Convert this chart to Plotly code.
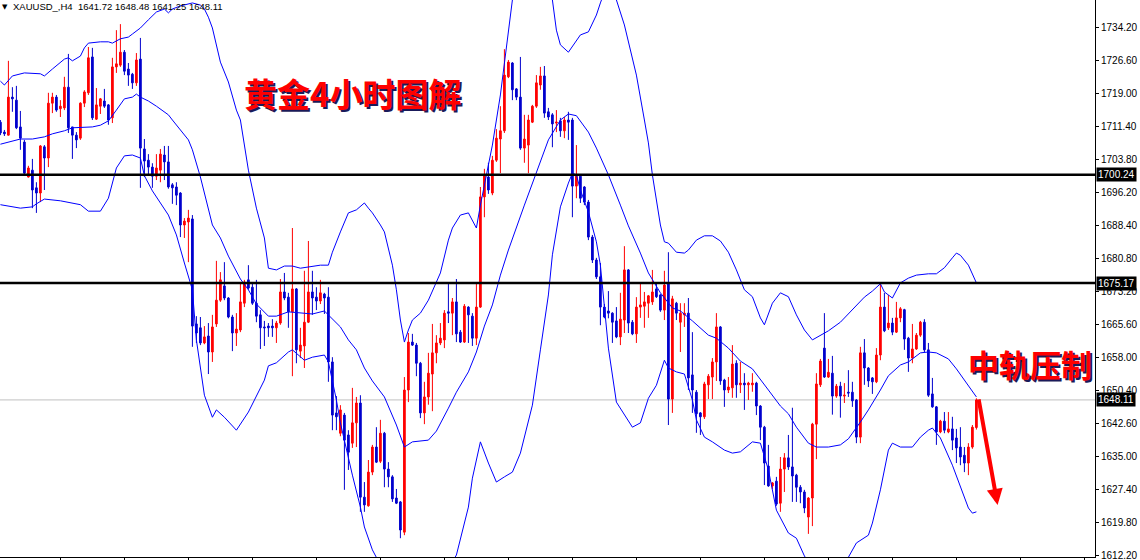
import plotly.graph_objects as go

# H4 candles, oldest first (last one is the live bar)
opens = [
    1712.4, 1710.1, 1709.4, 1718.2, 1717.5, 1711.3, 1707.8, 1699.7, 1701.3, 1697.2,
    1696.0, 1706.7, 1704.1, 1716.8, 1718.2, 1715.5, 1715.7, 1720.5, 1711.3, 1709.4,
    1708.7, 1716.8, 1719.2, 1727.5, 1713.1, 1716.1, 1717.3, 1716.4, 1713.4, 1725.2,
    1725.6, 1728.6, 1724.7, 1723.5, 1721.5, 1727.0, 1706.2, 1703.6, 1702.0, 1699.9,
    1701.3, 1704.8, 1703.2, 1697.9, 1697.4, 1696.0, 1688.6, 1689.3, 1690.0, 1665.7,
    1664.8, 1661.3, 1662.9, 1659.2, 1665.7, 1671.2, 1674.5, 1671.7, 1667.3, 1663.6,
    1664.3, 1670.5, 1675.9, 1674.2, 1670.5, 1667.8, 1665.0, 1665.2, 1665.2, 1664.8,
    1665.9, 1673.1, 1671.9, 1668.5, 1673.8, 1659.4, 1660.6, 1666.1, 1673.1, 1671.9,
    1671.0, 1672.6, 1671.9, 1656.9, 1645.1, 1640.4, 1644.6, 1640.0, 1638.1, 1642.8,
    1647.4, 1625.6, 1623.6, 1631.4, 1637.2, 1633.9, 1640.4, 1632.1, 1630.3, 1625.4,
    1624.5, 1617.5, 1650.4, 1661.5, 1660.8, 1656.6, 1645.1, 1648.8, 1654.1, 1659.0,
    1661.3, 1662.0, 1668.5, 1668.2, 1670.8, 1663.8, 1661.5, 1669.6, 1667.5, 1662.4,
    1669.6, 1695.1, 1699.7, 1696.0, 1703.6, 1708.5, 1710.4, 1722.9, 1726.1, 1720.1,
    1718.2, 1706.4, 1707.1, 1712.4, 1716.1, 1721.0, 1723.1, 1714.8, 1714.1, 1712.2,
    1712.7, 1710.4, 1712.9, 1712.9, 1697.6, 1699.9, 1697.4, 1693.9, 1685.8, 1680.5,
    1676.6, 1669.6, 1668.7, 1668.2, 1666.4, 1662.7, 1666.6, 1678.2, 1666.1, 1663.4,
    1669.6, 1669.8, 1670.5, 1670.8, 1673.8, 1672.4, 1668.9, 1675.2, 1648.3, 1670.5,
    1666.1, 1667.8, 1668.2, 1653.9, 1649.9, 1645.1, 1644.2, 1651.6, 1653.4, 1656.9,
    1665.0, 1652.7, 1650.4, 1650.9, 1656.6, 1651.6, 1652.0, 1651.6, 1651.6, 1652.0,
    1646.7, 1641.8, 1632.8, 1628.2, 1629.3, 1624.2, 1632.1, 1634.7, 1632.6, 1630.7,
    1627.9, 1626.8, 1621.0, 1625.4, 1642.5, 1651.6, 1660.1, 1653.4, 1654.3, 1649.0,
    1651.3, 1649.0, 1649.9, 1649.9, 1648.1, 1639.5, 1659.0, 1655.5, 1653.2, 1652.3,
    1658.5, 1669.6, 1664.8, 1665.9, 1663.8, 1667.1, 1669.0, 1662.4, 1657.8, 1659.9,
    1663.1, 1666.1, 1659.7, 1649.5, 1646.5, 1640.7, 1643.2, 1640.7, 1641.4, 1639.3,
    1637.2, 1635.3, 1633.5, 1637.2, 1641.72,
]
highs = [
    1712.9, 1710.6, 1726.6, 1720.5, 1720.8, 1715.0, 1708.3, 1702.3, 1703.9, 1698.5,
    1707.1, 1707.1, 1719.2, 1719.2, 1718.7, 1717.5, 1722.9, 1728.2, 1711.3, 1710.1,
    1717.0, 1719.8, 1729.8, 1729.6, 1720.3, 1718.0, 1720.1, 1716.6, 1727.3, 1733.7,
    1735.1, 1729.1, 1726.1, 1723.8, 1728.4, 1731.9, 1708.5, 1705.0, 1702.9, 1705.0,
    1706.2, 1706.9, 1706.9, 1698.3, 1698.5, 1696.2, 1690.2, 1692.1, 1690.9, 1667.5,
    1667.3, 1665.2, 1665.9, 1667.8, 1680.3, 1677.7, 1680.0, 1671.9, 1667.8, 1668.2,
    1675.2, 1675.9, 1679.3, 1675.4, 1675.9, 1668.9, 1666.4, 1665.9, 1666.8, 1666.4,
    1676.1, 1677.5, 1672.9, 1687.9, 1674.0, 1664.8, 1678.0, 1684.9, 1678.0, 1674.2,
    1675.9, 1672.9, 1674.2, 1658.0, 1649.0, 1646.9, 1645.1, 1641.1, 1650.9, 1648.8,
    1649.2, 1629.1, 1634.2, 1637.7, 1641.8, 1643.5, 1640.7, 1633.7, 1630.7, 1627.5,
    1624.7, 1653.4, 1663.6, 1663.4, 1661.3, 1656.9, 1652.3, 1659.0, 1665.7, 1663.1,
    1665.9, 1668.9, 1675.2, 1671.7, 1676.1, 1664.3, 1670.3, 1669.8, 1668.2, 1675.2,
    1697.4, 1701.6, 1703.0, 1704.6, 1710.8, 1716.1, 1729.3, 1726.8, 1726.3, 1720.3,
    1727.5, 1714.1, 1714.1, 1716.4, 1723.3, 1725.2, 1725.4, 1715.7, 1714.5, 1715.2,
    1713.4, 1713.6, 1714.8, 1713.4, 1707.1, 1700.4, 1697.6, 1694.4, 1686.3, 1681.0,
    1679.8, 1670.3, 1673.3, 1668.4, 1669.6, 1672.9, 1683.7, 1678.4, 1666.6, 1671.9,
    1675.2, 1673.1, 1672.4, 1678.2, 1675.2, 1672.6, 1678.0, 1682.3, 1672.2, 1670.8,
    1670.5, 1670.5, 1671.7, 1663.8, 1650.4, 1645.3, 1652.3, 1654.1, 1657.8, 1668.2,
    1665.2, 1653.0, 1653.4, 1660.8, 1657.3, 1656.9, 1654.3, 1652.3, 1654.3, 1652.3,
    1646.9, 1642.1, 1637.7, 1629.1, 1630.3, 1634.9, 1635.8, 1640.0, 1646.3, 1631.0,
    1628.4, 1627.3, 1625.6, 1642.8, 1654.3, 1657.6, 1668.2, 1657.6, 1658.3, 1651.8,
    1652.3, 1652.0, 1655.0, 1652.3, 1648.3, 1660.4, 1662.2, 1655.7, 1653.4, 1660.1,
    1674.9, 1672.9, 1672.4, 1667.1, 1670.8, 1669.6, 1669.2, 1662.7, 1665.7, 1663.6,
    1666.4, 1666.8, 1661.3, 1653.2, 1646.7, 1643.5, 1645.3, 1645.3, 1644.2, 1641.4,
    1641.8, 1637.2, 1638.1, 1642.3, 1648.48,
]
lows = [
    1709.4, 1709.2, 1709.3, 1714.8, 1710.8, 1706.0, 1700.2, 1699.6, 1692.5, 1691.4,
    1693.9, 1696.7, 1702.0, 1714.5, 1714.8, 1713.6, 1715.2, 1709.9, 1703.9, 1706.4,
    1708.3, 1715.9, 1718.7, 1712.9, 1712.9, 1714.3, 1715.7, 1711.8, 1712.2, 1723.8,
    1725.2, 1723.3, 1720.8, 1720.1, 1720.8, 1697.2, 1699.7, 1700.2, 1697.2, 1699.0,
    1698.5, 1699.0, 1697.0, 1693.5, 1693.2, 1685.8, 1685.6, 1680.0, 1660.4, 1661.3,
    1660.8, 1661.0, 1654.1, 1656.9, 1665.0, 1670.8, 1671.2, 1667.0, 1659.4, 1660.6,
    1663.8, 1669.6, 1673.6, 1670.1, 1666.1, 1659.9, 1660.6, 1662.7, 1662.7, 1661.3,
    1665.5, 1671.2, 1664.8, 1653.6, 1656.6, 1657.8, 1655.5, 1665.9, 1667.8, 1668.9,
    1670.3, 1668.0, 1652.3, 1641.1, 1641.1, 1639.7, 1627.3, 1631.9, 1637.0, 1637.2,
    1622.2, 1622.2, 1623.4, 1630.7, 1633.5, 1633.5, 1627.9, 1627.9, 1624.5, 1624.0,
    1616.1, 1616.8, 1647.6, 1660.6, 1653.6, 1643.9, 1642.5, 1647.0, 1645.5, 1656.6,
    1660.8, 1660.1, 1665.9, 1663.1, 1661.5, 1661.3, 1661.3, 1661.3, 1660.6, 1660.8,
    1669.4, 1690.4, 1695.8, 1695.5, 1703.2, 1700.6, 1709.9, 1722.6, 1717.5, 1717.5,
    1706.0, 1703.0, 1700.6, 1712.2, 1715.7, 1719.9, 1713.4, 1712.9, 1706.6, 1710.1,
    1709.0, 1708.7, 1708.3, 1690.4, 1694.8, 1693.7, 1693.2, 1685.1, 1679.8, 1676.1,
    1665.4, 1667.0, 1667.0, 1661.3, 1662.4, 1660.8, 1663.6, 1663.6, 1663.1, 1661.3,
    1667.1, 1664.8, 1667.1, 1670.1, 1671.7, 1668.5, 1666.6, 1642.3, 1645.1, 1666.6,
    1659.2, 1665.0, 1650.4, 1645.1, 1640.5, 1640.0, 1643.7, 1648.3, 1648.3, 1652.5,
    1651.6, 1646.5, 1649.7, 1648.6, 1648.6, 1649.7, 1645.8, 1648.1, 1650.0, 1644.6,
    1638.8, 1628.4, 1628.0, 1627.5, 1623.6, 1622.2, 1626.8, 1631.9, 1624.5, 1624.5,
    1624.2, 1621.9, 1617.1, 1618.9, 1634.4, 1651.1, 1653.2, 1653.2, 1644.7, 1648.6,
    1644.0, 1647.4, 1648.8, 1646.5, 1638.1, 1638.1, 1651.6, 1651.1, 1649.5, 1652.0,
    1657.3, 1663.8, 1664.3, 1663.1, 1663.6, 1666.1, 1659.7, 1654.6, 1656.6, 1659.7,
    1662.7, 1659.2, 1648.8, 1646.3, 1637.7, 1640.4, 1640.4, 1640.4, 1636.5, 1633.5,
    1633.0, 1631.4, 1630.7, 1636.8, 1641.25,
]
closes = [
    1709.9, 1709.7, 1718.2, 1717.8, 1711.1, 1708.7, 1700.6, 1701.8, 1696.7, 1696.0,
    1706.9, 1704.1, 1716.8, 1718.2, 1715.2, 1716.1, 1720.5, 1711.1, 1709.4, 1708.3,
    1716.8, 1719.4, 1727.3, 1713.4, 1716.4, 1717.8, 1716.1, 1712.9, 1725.2, 1725.9,
    1728.6, 1724.2, 1723.3, 1721.5, 1726.8, 1706.4, 1703.4, 1702.0, 1699.9, 1701.8,
    1705.0, 1703.2, 1697.4, 1697.2, 1695.5, 1688.6, 1689.5, 1690.2, 1665.2, 1663.6,
    1661.3, 1662.7, 1659.2, 1665.0, 1671.2, 1675.9, 1671.7, 1667.3, 1663.6, 1664.5,
    1670.8, 1675.4, 1674.0, 1670.5, 1667.5, 1664.8, 1664.8, 1664.8, 1664.8, 1665.9,
    1673.1, 1671.7, 1668.5, 1673.8, 1659.7, 1660.8, 1666.1, 1673.1, 1671.7, 1671.0,
    1672.9, 1671.7, 1656.9, 1644.6, 1644.2, 1645.8, 1638.8, 1636.0, 1642.8, 1647.4,
    1625.6, 1623.8, 1631.4, 1637.2, 1633.7, 1640.4, 1632.1, 1630.3, 1625.2, 1624.2,
    1618.0, 1650.4, 1661.5, 1660.8, 1656.6, 1645.1, 1648.8, 1654.3, 1659.0, 1661.3,
    1662.4, 1668.2, 1668.2, 1670.8, 1663.4, 1661.5, 1669.8, 1667.8, 1662.4, 1669.6,
    1695.1, 1700.2, 1696.7, 1703.6, 1708.7, 1710.4, 1723.3, 1726.3, 1719.9, 1718.2,
    1706.4, 1708.5, 1712.9, 1716.1, 1721.5, 1723.1, 1714.5, 1713.6, 1712.0, 1712.4,
    1710.4, 1712.9, 1712.4, 1697.6, 1699.9, 1694.8, 1693.9, 1685.8, 1680.5, 1676.6,
    1669.6, 1667.3, 1668.2, 1666.1, 1662.7, 1666.8, 1678.2, 1665.9, 1663.4, 1669.6,
    1670.1, 1670.8, 1672.2, 1673.1, 1672.0, 1668.9, 1674.7, 1648.3, 1671.5, 1668.2,
    1668.2, 1668.2, 1653.2, 1650.4, 1644.9, 1644.2, 1651.8, 1653.6, 1656.9, 1665.0,
    1652.5, 1650.4, 1651.1, 1656.4, 1651.6, 1652.0, 1651.6, 1652.0, 1652.0, 1646.7,
    1641.8, 1633.5, 1628.2, 1628.9, 1624.0, 1632.1, 1634.7, 1632.6, 1630.5, 1627.9,
    1626.8, 1623.1, 1625.4, 1642.5, 1651.8, 1657.1, 1653.4, 1654.5, 1649.0, 1651.3,
    1649.0, 1649.2, 1649.7, 1647.9, 1639.5, 1659.0, 1655.5, 1652.5, 1652.3, 1658.5,
    1669.6, 1664.1, 1665.9, 1663.8, 1667.1, 1669.2, 1662.2, 1657.8, 1659.9, 1663.1,
    1666.1, 1659.7, 1649.2, 1646.5, 1640.7, 1643.2, 1641.1, 1641.4, 1638.8, 1637.0,
    1634.9, 1633.5, 1637.2, 1641.8, 1648.11,
]

# Bollinger bands (bar index, price)
upper_idx = [0, 1, 3, 6, 10, 11, 13, 16, 17, 18, 20, 21, 22, 25, 27, 28, 30, 32, 33, 35,
             37, 39, 41, 42, 43, 45, 48, 50, 51, 52, 53, 55, 57, 59, 60, 62, 64, 66, 67, 69,
             71, 73, 75, 77, 80, 82, 83, 85, 87, 89, 91, 92, 93, 95, 96, 98, 99, 100, 101, 102,
             103, 105, 107, 110, 112, 113, 115, 117, 119, 120, 121, 123, 125, 127, 128, 130, 134, 137, 138, 139,
             140, 142, 144, 145, 147, 149, 150, 151, 153, 154, 156, 158, 159, 161, 162, 163, 165, 166, 167, 169,
             171, 172, 174, 176, 178, 180, 182, 184, 186, 188, 190, 191, 193, 195, 197, 199, 201, 203, 205, 207,
             210, 212, 214, 216, 218, 220, 221, 223, 225, 227, 229, 232, 234, 236, 238, 239, 240, 242, 244]
upper_band = [1721.9, 1721.0, 1723.1, 1723.8, 1723.6, 1723.1, 1724.7, 1727.0, 1727.3, 1726.6,
              1727.7, 1729.6, 1730.7, 1731.0, 1731.0, 1730.7, 1731.7, 1732.1, 1732.8, 1734.2,
              1736.1, 1737.9, 1738.6, 1737.7, 1738.6, 1739.3, 1740.0, 1739.5, 1738.6, 1736.7,
              1734.2, 1726.3, 1721.7, 1715.2, 1712.9, 1701.3, 1692.5, 1685.6, 1678.6, 1678.2,
              1679.1, 1679.1, 1678.6, 1678.9, 1679.3, 1679.3, 1682.3, 1687.0, 1691.4, 1692.1,
              1693.7, 1692.5, 1691.4, 1688.6, 1687.0, 1679.3, 1673.6, 1666.6, 1661.5, 1664.3,
              1666.6, 1668.2, 1671.2, 1677.5, 1685.1, 1687.9, 1690.9, 1691.4, 1687.9, 1693.2,
              1697.9, 1707.1, 1718.7, 1733.7, 1740.7, 1747.6, 1752.3, 1744.2, 1740.7, 1733.7,
              1730.3, 1728.6, 1731.4, 1732.6, 1733.3, 1737.2, 1740.0, 1742.5, 1742.5, 1740.7,
              1734.9, 1727.5, 1723.3, 1712.9, 1707.6, 1700.2, 1688.6, 1684.7, 1684.4, 1682.3,
              1682.1, 1682.8, 1685.1, 1686.1, 1686.1, 1684.9, 1682.3, 1678.2, 1673.6, 1672.0,
              1667.1, 1665.5, 1670.5, 1672.9, 1672.0, 1667.8, 1664.3, 1662.0, 1663.1, 1664.1,
              1666.1, 1668.0, 1669.8, 1671.9, 1673.3, 1675.0, 1673.1, 1671.7, 1675.2, 1676.3,
              1677.0, 1677.3, 1677.3, 1678.7, 1681.0, 1682.1, 1681.6, 1679.3, 1675.2]

mid_idx = [0, 5, 8, 11, 13, 16, 18, 21, 23, 25, 27, 29, 31, 33, 34, 35, 37, 39, 42, 43,
           45, 47, 48, 50, 53, 55, 57, 60, 62, 64, 67, 69, 72, 75, 78, 81, 83, 85, 87, 89,
           91, 93, 96, 99, 101, 103, 107, 109, 112, 114, 117, 119, 121, 123, 125, 127, 131, 134, 137, 140,
           142, 144, 147, 149, 152, 155, 157, 160, 162, 165, 168, 170, 173, 177, 179, 182, 185, 188, 190, 192,
           195, 197, 199, 202, 204, 207, 210, 212, 215, 217, 220, 222, 225, 227, 230, 232, 234, 237, 239, 242,
           244]
mid_band = [1707.3, 1708.5, 1708.5, 1709.0, 1709.7, 1710.4, 1711.1, 1711.3, 1711.3, 1711.7,
            1712.7, 1715.2, 1717.8, 1718.2, 1718.9, 1718.2, 1717.3, 1716.1, 1714.1, 1712.9,
            1710.6, 1708.3, 1706.0, 1699.7, 1688.6, 1685.6, 1681.4, 1676.1, 1673.6, 1670.3,
            1667.5, 1667.5, 1668.5, 1668.2, 1668.0, 1668.7, 1666.8, 1665.0, 1662.0, 1659.7,
            1655.5, 1652.5, 1648.8, 1642.3, 1637.2, 1638.4, 1638.8, 1640.9, 1646.2, 1649.9,
            1654.6, 1659.2, 1665.2, 1670.1, 1677.0, 1682.8, 1693.2, 1700.9, 1708.3, 1712.9,
            1714.3, 1713.9, 1710.1, 1706.4, 1700.2, 1693.2, 1688.4, 1682.1, 1677.5, 1672.9,
            1669.4, 1668.7, 1666.4, 1663.1, 1662.4, 1660.1, 1657.1, 1655.3, 1652.7, 1650.4,
            1646.7, 1644.9, 1641.8, 1638.1, 1637.2, 1637.2, 1637.7, 1639.1, 1643.0, 1645.8,
            1650.4, 1653.7, 1656.2, 1656.9, 1659.0, 1659.2, 1659.0, 1657.6, 1655.3, 1651.3,
            1648.8]

lower_idx = [0, 3, 5, 8, 9, 11, 15, 20, 22, 25, 27, 29, 31, 33, 35, 36, 38, 42, 44, 46,
             48, 49, 51, 53, 54, 56, 59, 62, 64, 66, 67, 69, 72, 73, 76, 78, 81, 82, 84, 85,
             88, 90, 91, 93, 95, 100, 110, 112, 114, 117, 118, 120, 122, 124, 126, 128, 130, 133, 135, 137,
             138, 140, 142, 143, 144, 145, 147, 149, 150, 151, 152, 154, 156, 158, 160, 162, 164, 166, 167, 169,
             171, 173, 174, 176, 178, 181, 183, 185, 188, 190, 192, 194, 197, 199, 201, 204, 209, 212, 214, 217,
             218, 220, 222, 223, 225, 228, 230, 232, 233, 235, 238, 240, 242, 243, 244]
lower_band = [1693.3, 1692.8, 1692.5, 1692.8, 1693.5, 1694.6, 1694.2, 1693.3, 1691.8, 1691.8,
              1694.8, 1701.8, 1704.6, 1704.8, 1704.1, 1700.0, 1696.5, 1690.9, 1686.3, 1679.8,
              1673.6, 1662.0, 1649.2, 1644.1, 1645.8, 1644.1, 1641.1, 1645.3, 1649.2, 1652.7,
              1656.0, 1656.7, 1659.2, 1659.7, 1657.3, 1658.0, 1658.5, 1656.9, 1648.1, 1642.8,
              1630.7, 1623.3, 1618.7, 1613.4, 1609.9, 1607.6, 1607.6, 1609.2, 1612.2, 1623.3,
              1630.0, 1638.4, 1633.5, 1629.1, 1630.3, 1631.4, 1635.8, 1646.9, 1659.7, 1672.4,
              1681.7, 1692.8, 1698.3, 1700.6, 1700.2, 1696.7, 1691.6, 1684.7, 1679.3, 1668.9,
              1660.1, 1647.6, 1644.6, 1641.8, 1642.8, 1648.5, 1651.5, 1657.3, 1655.5, 1654.6,
              1654.1, 1648.1, 1643.5, 1639.5, 1638.4, 1636.5, 1635.8, 1636.1, 1638.4, 1638.1,
              1631.9, 1622.6, 1617.3, 1616.1, 1612.0, 1607.6, 1607.6, 1611.7, 1615.0, 1616.8,
              1619.6, 1627.3, 1636.5, 1638.1, 1637.2, 1637.2, 1639.5, 1641.1, 1641.6, 1639.3,
              1633.0, 1628.0, 1623.1, 1621.9, 1622.2]

levels = [1700.24, 1675.17]
ytick_vals = [1612.2, 1619.8, 1627.4, 1635.0, 1642.6, 1650.4, 1658.0, 1665.6, 1673.2,
              1680.8, 1688.4, 1696.2, 1703.8, 1711.4, 1719.0, 1726.6, 1734.2]
symbol = "XAUUSD_,H4"
title_cn = "黄金4小时图解"
note_cn = "中轨压制"
arrow_from = (244.5, 1648.6)
arrow_to = (249.3, 1623.8)

bars = list(range(len(closes)))
band_blue = "#0000ff"
bull = "#ff0000"
bear = "#0000cd"

fig = go.Figure()

fig.add_trace(go.Candlestick(
    x=bars, open=opens, high=highs, low=lows, close=closes,
    increasing=dict(line=dict(color=bull, width=1), fillcolor=bull),
    decreasing=dict(line=dict(color=bear, width=1), fillcolor=bear),
    whiskerwidth=0, hoverinfo="skip", showlegend=False,
))

for bx, by in ((upper_idx, upper_band), (mid_idx, mid_band), (lower_idx, lower_band)):
    fig.add_trace(go.Scatter(x=bx, y=by, mode="lines",
                             line=dict(color=band_blue, width=1),
                             hoverinfo="skip", showlegend=False))

# bid line + horizontal levels
fig.add_hline(y=closes[-1], line=dict(color="#c0c0c0", width=1), layer="below")
for lv in levels:
    fig.add_hline(y=lv, line=dict(color="black", width=2.5))

# price tags on the right scale
for lv in levels + [closes[-1]]:
    fig.add_annotation(x=1, xref="paper", y=lv, yref="y", xanchor="left", xshift=1,
                       text="%.2f" % lv, showarrow=False, bgcolor="black", borderpad=1,
                       font=dict(family="Liberation Sans", size=10, color="white"))

# chart header
fig.add_annotation(x=0, xref="paper", y=1, yref="paper", xanchor="left", yanchor="top",
                   text="▼", showarrow=False, yshift=-1,
                   font=dict(family="DejaVu Sans", size=7, color="black"))
fig.add_annotation(x=0, xref="paper", y=1, yref="paper", xanchor="left", yanchor="top",
                   xshift=11, yshift=1, showarrow=False,
                   text="%s  %.2f %.2f %.2f %.2f" % (symbol, opens[-1], highs[-1], lows[-1], closes[-1]),
                   font=dict(family="Liberation Sans", size=9.5, color="black"))

cn_font = dict(family="Noto Sans CJK SC", size=33, color="#ff0000", weight="bold",
               shadow="2px 2px 0px #1a1a5a")
fig.add_annotation(x=88, y=1719.2, xref="x", yref="y", text=title_cn, showarrow=False,
                   font=cn_font)
fig.add_annotation(x=257.5, y=1656.6, xref="x", yref="y", text=note_cn, showarrow=False,
                   font=dict(cn_font, size=31))

fig.add_annotation(x=arrow_to[0], y=arrow_to[1], ax=arrow_from[0], ay=arrow_from[1],
                   xref="x", yref="y", axref="x", ayref="y", text="", showarrow=True,
                   arrowhead=2, arrowsize=0.8, arrowwidth=4, arrowcolor="#ff0000")

fig.update_layout(
    width=1140, height=560,
    margin=dict(l=0, r=45, t=0, b=3),
    paper_bgcolor="white", plot_bgcolor="white",
    boxgap=0.4,
    showlegend=False,
    hovermode=False,
    xaxis=dict(range=[-0.1, 273.65], showgrid=False, zeroline=False,
               showline=True, linecolor="black", linewidth=1,
               ticks="outside", ticklen=3, tickcolor="black",
               tickvals=list(range(15, 272, 16)), showticklabels=False,
               rangeslider=dict(visible=False), fixedrange=True),
    yaxis=dict(side="right", range=[1611.75, 1740.68], showgrid=False, zeroline=False,
               showline=True, linecolor="black", linewidth=1,
               ticks="outside", ticklen=3, tickcolor="black",
               tickvals=ytick_vals, ticktext=["%.2f" % v for v in ytick_vals],
               tickfont=dict(family="Liberation Sans", size=10, color="black"),
               ticklabeloverflow="allow", fixedrange=True),
)

# page body has a default 8px margin; drop it so the chart sits at the window corner
fig.write_html("out.html", config={"displayModeBar": False},
               post_script="document.body.style.margin='0';document.body.style.overflow='hidden';")
